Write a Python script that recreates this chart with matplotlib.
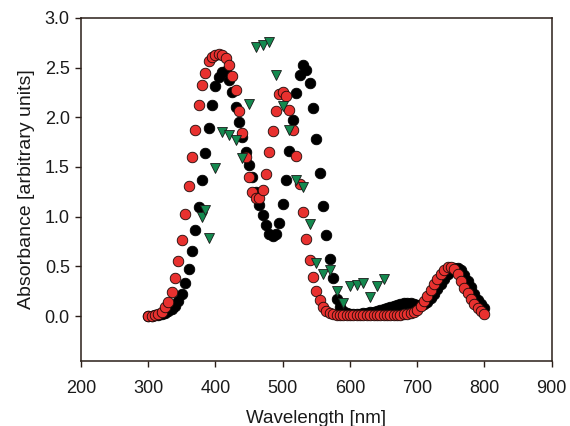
import matplotlib.pyplot as plt

plt.rcParams['font.family'] = ['Liberation Sans', 'DejaVu Sans']

# wavelength grid (nm) for the two dense spectra
wl = list(range(300, 805, 5))

# black spectrum
black = [0.00, 0.00, 0.01, 0.01, 0.02, 0.03, 0.05, 0.07, 0.10, 0.15,
         0.22, 0.33, 0.47, 0.65, 0.87, 1.10, 1.37, 1.64, 1.89, 2.12,
         2.31, 2.41, 2.46, 2.47, 2.38, 2.25, 2.10, 1.95, 1.80, 1.65,
         1.52, 1.40, 1.25, 1.12, 1.02, 0.92, 0.83, 0.81, 0.83, 0.94,
         1.13, 1.37, 1.66, 1.97, 2.24, 2.43, 2.53, 2.48, 2.34, 2.09,
         1.78, 1.44, 1.11, 0.82, 0.57, 0.38, 0.17, 0.09, 0.05, 0.03,
         0.02, 0.02, 0.02, 0.02, 0.03, 0.03, 0.04, 0.04, 0.05, 0.06,
         0.07, 0.08, 0.09, 0.10, 0.11, 0.12, 0.13, 0.13, 0.13, 0.12,
         0.11, 0.11, 0.12, 0.14, 0.18, 0.22, 0.27, 0.32, 0.37, 0.42,
         0.46, 0.48, 0.48, 0.46, 0.41, 0.35, 0.29, 0.22, 0.16, 0.12,
         0.08]

# red spectrum
red = [0.00, 0.00, 0.01, 0.02, 0.04, 0.09, 0.145, 0.245, 0.38, 0.55,
       0.77, 1.03, 1.31, 1.60, 1.87, 2.12, 2.32, 2.45, 2.57, 2.61,
       2.63, 2.64, 2.63, 2.60, 2.53, 2.42, 2.27, 2.06, 1.84, 1.60,
       1.40, 1.25, 1.19, 1.19, 1.27, 1.43, 1.65, 1.86, 2.06, 2.23,
       2.25, 2.21, 2.07, 1.87, 1.61, 1.33, 1.05, 0.78, 0.56, 0.39,
       0.25, 0.16, 0.09, 0.05, 0.03, 0.02, 0.01, 0.01, 0.01, 0.01,
       0.01, 0.01, 0.01, 0.01, 0.01, 0.01, 0.01, 0.01, 0.01, 0.01,
       0.01, 0.01, 0.01, 0.01, 0.01, 0.015, 0.02, 0.02, 0.03, 0.04,
       0.06, 0.10, 0.15, 0.20, 0.26, 0.32, 0.37, 0.42, 0.46, 0.49,
       0.49, 0.47, 0.42, 0.35, 0.28, 0.23, 0.17, 0.12, 0.08, 0.05,
       0.02]

# green triangles (sparse)
wl_green = [380, 385, 390, 400, 410, 420, 430, 440, 450, 460, 470, 480,
            490, 500, 510, 520, 530, 540, 550, 560, 570, 580, 590, 600,
            610, 620, 630, 640, 650]
green = [1.00, 1.07, 0.79, 1.49, 1.85, 1.82, 1.77, 1.59, 2.13, 2.71, 2.73,
         2.76, 2.43, 2.11, 1.87, 1.37, 1.30, 0.93, 0.53, 0.42, 0.46, 0.25,
         0.13, 0.30, 0.31, 0.33, 0.19, 0.30, 0.37]

fig = plt.figure(figsize=(5.7, 4.26), dpi=100)
ax = fig.add_axes([0.142, 0.153, 0.826, 0.805])

ax.plot(wl, black, 'o', color='black', markeredgecolor='black',
        markersize=7.6, markeredgewidth=0.6)
ax.plot(wl, red, 'o', color='#e8312f', markeredgecolor='#1a0a08',
        markersize=7.6, markeredgewidth=0.6)
ax.plot(wl_green, green, 'v', color='#14894f', markeredgecolor='#1a1a1a',
        markersize=7.8, markeredgewidth=0.6)

ax.set_xlim(200, 900)
ax.set_ylim(-0.45, 3.0)
ax.set_xticks(range(200, 1000, 100))
ax.set_yticks([0.0, 0.5, 1.0, 1.5, 2.0, 2.5, 3.0])
ax.set_yticklabels(['0.0', '0.5', '1.0', '1.5', '2.0', '2.5', '3.0'])

axis_col = '#2a1e18'
for s in ax.spines.values():
    s.set_color(axis_col)
    s.set_linewidth(1.1)
ax.tick_params(direction='out', length=4, width=1.0, color=axis_col,
               labelsize=13, labelcolor='#1a1a1a')
ax.tick_params(axis='x', pad=10)
ax.tick_params(axis='y', pad=4)

# reference has the x label right at the bottom edge; keep it just inside
ax.set_xlabel('Wavelength [nm]', fontsize=13.5, color='#1a1a1a', labelpad=9)
ax.set_ylabel('Absorbance [arbitrary units]', fontsize=14, color='#1a1a1a',
              labelpad=7)

fig.savefig('out.png', dpi=100)
